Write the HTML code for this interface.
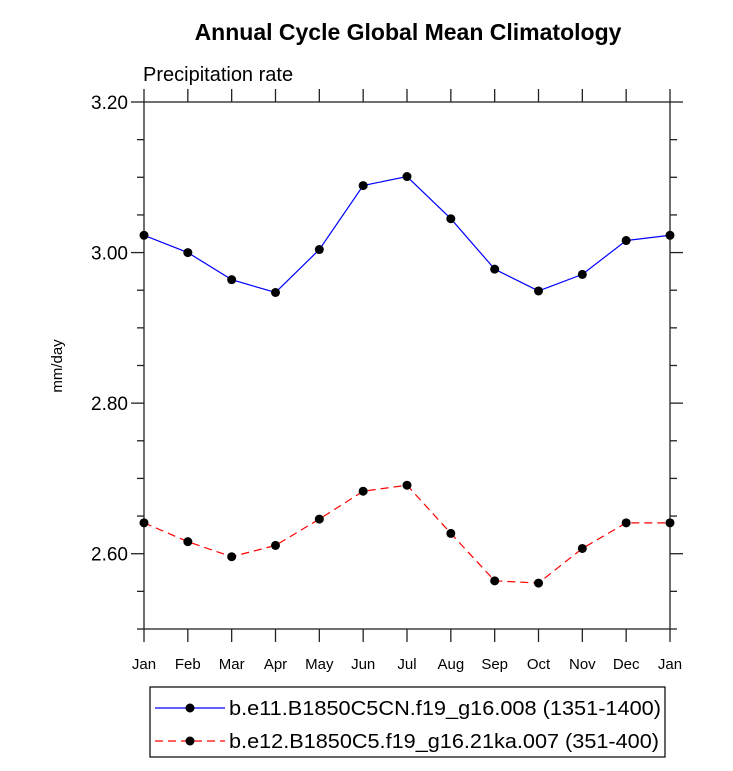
<!DOCTYPE html>
<html><head><meta charset="utf-8"><style>
body{margin:0;background:#fff;width:733px;height:766px;overflow:hidden}
svg text{font-family:"Liberation Sans",sans-serif}
</style></head><body>
<svg id="chart" width="733" height="766">
<text x="408" y="40" text-anchor="middle" font-size="23" font-weight="bold">Annual Cycle Global Mean Climatology</text>
<text x="143" y="81" font-size="20">Precipitation rate</text>
<text transform="translate(62,366) rotate(-90)" text-anchor="middle" font-size="15">mm/day</text>
<rect x="144" y="102" width="526" height="527" fill="none" stroke="#222" stroke-width="1.3"/>
<g id="axes"></g><g id="series"></g>
<g>
<rect x="150" y="687" width="515" height="70" fill="none" stroke="#000" stroke-width="1.2"/>
<g>
<line x1="155" y1="708" x2="225" y2="708" stroke="#00f" stroke-width="1.2"/><circle cx="190" cy="708" r="4.5"/>
<text x="229" y="715" font-size="20.5" textLength="432" lengthAdjust="spacingAndGlyphs">b.e11.B1850C5CN.f19_g16.008 (1351-1400)</text></g>
<g>
<line x1="155" y1="741" x2="225" y2="741" stroke="#f00" stroke-width="1.2" stroke-dasharray="8,5"/><circle cx="190" cy="741" r="4.5"/>
<text x="229" y="748" font-size="20.5" textLength="430" lengthAdjust="spacingAndGlyphs">b.e12.B1850C5.f19_g16.21ka.007 (351-400)</text></g>
</g>
</svg>
<script>
const months=["Jan","Feb","Mar","Apr","May","Jun","Jul","Aug","Sep","Oct","Nov","Dec","Jan"];
const seriesA=[3.023,3.000,2.964,2.947,3.004,3.089,3.101,3.045,2.978,2.949,2.971,3.016,3.023];
const seriesB=[2.641,2.616,2.596,2.611,2.646,2.683,2.691,2.627,2.564,2.561,2.607,2.641,2.641];
const yTicks=[2.6,2.8,3.0,3.2];
const yTickLabels=["2.60","2.80","3.00","3.20"];
const yMin=2.5,yMax=3.2,L=144,R=670,T=102,B=629;
const NS="http://www.w3.org/2000/svg";
const xs=i=>L+(R-L)*i/(months.length-1);
const ys=v=>B-(v-yMin)/(yMax-yMin)*(B-T);
function mk(t,a,p){const e=document.createElementNS(NS,t);for(const k in a)e.setAttribute(k,a[k]);p.appendChild(e);return e;}
const ax=document.getElementById('axes');
months.forEach((m,i)=>{const x=xs(i);
 mk('line',{x1:x,y1:B,x2:x,y2:B+13,stroke:'#222','stroke-width':1.3},ax);
 mk('line',{x1:x,y1:T,x2:x,y2:T-13,stroke:'#222','stroke-width':1.3},ax);
 const t=mk('text',{x:x,y:B+40,'text-anchor':'middle','font-size':15},ax);t.textContent=m;
 
 
});
for(let v=yMin;v<=yMax+1e-9;v+=0.05){const y=ys(v);
 const major=yTicks.some(t=>Math.abs(t-v)<1e-6);const len=major?13:7;
 mk('line',{x1:L,y1:y,x2:L-len,y2:y,stroke:'#222','stroke-width':1.3},ax);
 mk('line',{x1:R,y1:y,x2:R+len,y2:y,stroke:'#222','stroke-width':1.3},ax);}
yTicks.forEach((v,i)=>{const t=mk('text',{x:L-16,y:ys(v)+7,'text-anchor':'end','font-size':19},ax);t.textContent=yTickLabels[i];
 
 
});
const sg=document.getElementById('series');
function draw(data,color,dash,name){
 const g=mk('g',{},sg);
 
 
 const pts=data.map((v,i)=>xs(i)+','+ys(v)).join(' ');
 const a={points:pts,fill:'none',stroke:color,'stroke-width':1.2};if(dash)a['stroke-dasharray']=dash;
 mk('polyline',a,g);
 data.forEach((v,i)=>{const c=mk('circle',{cx:xs(i),cy:ys(v),r:4.5},g);
  
  });
}
draw(seriesA,'#00f',null,'series-b-e11');
draw(seriesB,'#f00','8,5','series-b-e12');
</script>
</body></html>
